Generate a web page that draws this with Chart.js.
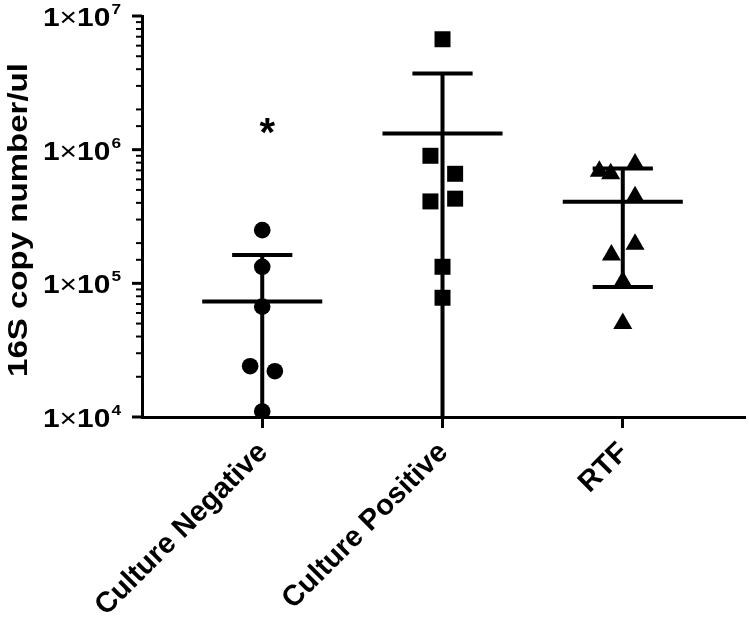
<!DOCTYPE html>
<html>
<head>
<meta charset="utf-8">
<script src="https://cdn.jsdelivr.net/npm/chart.js@4.4.0/dist/chart.umd.min.js"></script>
<style>
  body { margin: 0; background: #fff; }
  #wrap { width: 749px; height: 623px; }
</style>
</head>
<body>
<div id="wrap"><canvas id="dotChart" width="749" height="623"></canvas></div>
<script>
// Values (16S copies per ul)
const categories = ['Culture Negative', 'Culture Positive', 'RTF'];

const negValues = [2.5e5, 1.33e5, 6.7e4, 2.4e4, 2.2e4, 1.1e4];
const negJitter = [0, 0, 0, -0.067, 0.07, 0];

const posValues = [6.7e6, 9.0e5, 6.6e5, 4.1e5, 4.3e5, 1.33e5, 7.8e4];
const posJitter = [0, -0.067, 0.07, -0.067, 0.07, 0, 0];

const rtfValues = [6.9e5, 6.6e5, 7.8e5, 4.45e5, 1.96e5, 1.63e5, 1.03e5, 5.0e4];
const rtfJitter = [-0.13, -0.067, 0.068, 0.068, 0.068, -0.063, 0, 0];

// mean +/- SD per group
const means = [7.3e4, 1.32e6, 4.08e5];
const sds = [9.0e4, 2.4e6, 3.14e5];

const yMin = 1e4;
const yMax = 1e7;
const yTitle = '16S copy number/ul';
const starGroup = 0;      // asterisk above "Culture Negative"
const starValue = 1.5e6;

const FONT = '"Liberation Sans", Arial, Helvetica, sans-serif';
const meanHalf = 0.333;
const capHalf = 0.167;

function groupPoints(values, jitter, group) {
  return values.map((v, i) => ({ x: group + 1 + jitter[i], y: v }));
}

function errorBar(i) {
  const c = i + 1;
  const hi = means[i] + sds[i];
  const loRaw = means[i] - sds[i];
  const lo = Math.max(loRaw, yMin);
  const pts = [
    { x: c - capHalf, y: hi }, { x: c + capHalf, y: hi }, { x: c, y: null },
    { x: c, y: hi }, { x: c, y: lo }
  ];
  if (loRaw > yMin) {
    pts.push({ x: c, y: null }, { x: c - capHalf, y: lo }, { x: c + capHalf, y: lo });
  }
  return pts;
}

function meanLine(i) {
  const c = i + 1;
  return [{ x: c - meanHalf, y: means[i] }, { x: c + meanHalf, y: means[i] }];
}

const lineStyle = {
  showLine: true,
  borderColor: '#000',
  borderWidth: 4,
  pointRadius: 0,
  spanGaps: false,
  borderCapStyle: 'butt'
};

const datasets = [];
categories.forEach((c, i) => {
  datasets.push(Object.assign({ label: c + ' SD', data: errorBar(i) }, lineStyle));
  datasets.push(Object.assign({ label: c + ' mean', data: meanLine(i) }, lineStyle));
});
datasets.push({ label: categories[0], data: groupPoints(negValues, negJitter, 0),
  pointStyle: 'circle', pointRadius: 8.3, backgroundColor: '#000', borderWidth: 0 });
datasets.push({ label: categories[1], data: groupPoints(posValues, posJitter, 1),
  pointStyle: 'rect', pointRadius: 11.3, backgroundColor: '#000', borderWidth: 0 });
datasets.push({ label: categories[2], data: groupPoints(rtfValues, rtfJitter, 2),
  pointStyle: 'triangle', pointRadius: 11, backgroundColor: '#000', borderWidth: 0 });

// y tick labels (1x10^n), minor ticks, axis title, x labels and the asterisk
const decor = {
  id: 'decor',
  afterDraw(chart) {
    const { ctx, chartArea, scales: { x, y } } = chart;
    ctx.save();
    ctx.fillStyle = '#000';
    ctx.strokeStyle = '#000';

    y.ticks.forEach(t => {
      const py = y.getPixelForValue(t.value);
      const lg = Math.log10(t.value);
      const major = Math.abs(lg - Math.round(lg)) < 1e-6;
      ctx.lineWidth = major ? 3 : 2;
      ctx.beginPath();
      ctx.moveTo(chartArea.left - (major ? 10 : 6), py);
      ctx.lineTo(chartArea.left, py);
      ctx.stroke();
      if (major) {
        ctx.save();
        ctx.translate(121, py);
        ctx.scale(1.15, 1);
        ctx.textAlign = 'right';
        ctx.textBaseline = 'alphabetic';
        const exp = String(Math.round(lg));
        ctx.font = 'bold 15px ' + FONT;
        ctx.fillText(exp, 0, -2);
        let px = -ctx.measureText(exp).width - 1;
        ctx.font = 'bold 26px ' + FONT;
        ctx.fillText('10', px, 10);
        px -= ctx.measureText('10').width;
        ctx.font = '26px ' + FONT;
        ctx.fillText('\u00d7', px, 10);
        px -= ctx.measureText('\u00d7').width;
        ctx.font = 'bold 26px ' + FONT;
        ctx.fillText('1', px, 10);
        ctx.restore();
      }
    });

    // axis title
    ctx.save();
    ctx.translate(27, 220);
    ctx.rotate(-Math.PI / 2);
    ctx.scale(1.18, 1);
    ctx.font = 'bold 28px ' + FONT;
    ctx.textAlign = 'center';
    ctx.textBaseline = 'alphabetic';
    ctx.fillText(yTitle, 0, 0);
    ctx.restore();

    // category labels at 45 degrees
    categories.forEach((c, i) => {
      const px = x.getPixelForValue(i + 1);
      ctx.save();
      ctx.translate(px + 1, chartArea.bottom + 31);
      ctx.rotate(-Math.PI / 4);
      ctx.font = 'bold 29px ' + FONT;
      ctx.textAlign = 'right';
      ctx.textBaseline = 'middle';
      ctx.fillText(c, 0, 0);
      ctx.restore();
    });

    // asterisk
    ctx.font = 'bold 40px ' + FONT;
    ctx.textAlign = 'center';
    ctx.textBaseline = 'alphabetic';
    const m = ctx.measureText('*');
    const sx = x.getPixelForValue(starGroup + 1) + 5;
    const sy = y.getPixelForValue(starValue);
    ctx.fillText('*', sx, sy + (m.actualBoundingBoxAscent - m.actualBoundingBoxDescent) / 2);

    ctx.restore();
  }
};

new Chart(document.getElementById('dotChart'), {
  type: 'scatter',
  data: { datasets },
  options: {
    responsive: false,
    animation: false,
    layout: { autoPadding: false, padding: { top: 16, right: 4, left: 0, bottom: 0 } },
    plugins: { legend: { display: false }, tooltip: { enabled: false } },
    scales: {
      x: {
        type: 'linear',
        min: 0.333,
        max: 3.678,
        afterBuildTicks: s => { s.ticks = categories.map((c, i) => ({ value: i + 1 })); },
        afterFit: s => { s.height = 206; },
        ticks: { display: false },
        grid: { display: true, drawOnChartArea: false, drawTicks: true,
                tickLength: 11, tickWidth: 3, tickColor: '#000', color: '#000' },
        border: { display: true, color: '#000', width: 3 }
      },
      y: {
        type: 'logarithmic',
        min: yMin,
        max: yMax,
        afterFit: s => { s.width = 142; },
        ticks: { display: false },
        grid: { display: false },
        border: { display: true, color: '#000', width: 3 }
      }
    }
  },
  plugins: [decor]
});
</script>
</body>
</html>
